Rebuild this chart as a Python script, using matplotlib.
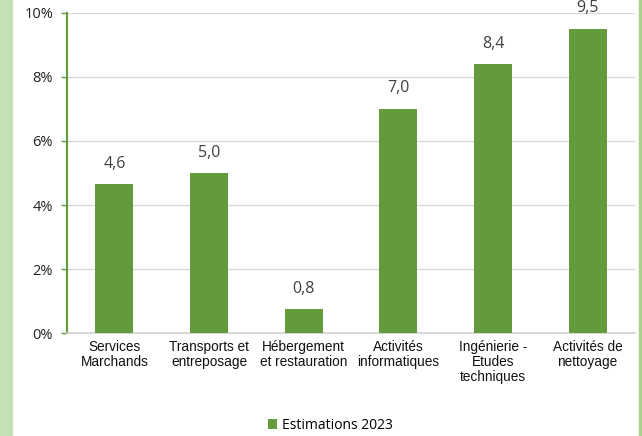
import matplotlib
matplotlib.use("Agg")
import matplotlib.pyplot as plt
from matplotlib.patches import Rectangle

categories = ["Services\nMarchands", "Transports et\nentreposage", "Hébergement\net restauration",
              "Activités\ninformatiques", "Ingénierie -\nEtudes\ntechniques", "Activités de\nnettoyage"]
values = [4.65, 5.0, 0.75, 7.0, 8.4, 9.5]
value_labels = ["4,6", "5,0", "0,8", "7,0", "8,4", "9,5"]
yticks = [0, 2, 4, 6, 8, 10]
series_name = "Estimations 2023"

bar_color = "#629a3c"
fig = plt.figure(figsize=(6.42, 4.36), dpi=100)
W, H = 642, 436
ax = fig.add_axes([67 / W, 1 - 333 / H, (635 - 67) / W, (333 - 13) / H])

x = list(range(len(categories)))
bars = ax.bar(x, values, width=0.4, color=bar_color, label=series_name, zorder=3)
ax.set_xlim(-0.5, len(categories) - 0.5)
ax.set_ylim(0, 10)
ax.set_yticks(yticks)
ax.set_yticklabels([f"{t}%" for t in yticks], family="Open Sans", fontsize=10.5, color="#222222")
ax.set_xticks(x)
ax.set_xticklabels(categories, family="Liberation Sans", fontsize=9.8, color="#111111", linespacing=1.1)
ax.tick_params(axis="x", length=0, pad=5)
ax.tick_params(axis="y", length=4, color="#629a3c", width=1, pad=6)
ax.grid(axis="y", color="#d9d9d9", linewidth=1, zorder=0)
for s in ["top", "right"]:
    ax.spines[s].set_visible(False)
ax.spines["left"].set_color("#629a3c")
ax.spines["left"].set_linewidth(1.5)
ax.spines["bottom"].set_color("#d0d0d0")
ax.spines["bottom"].set_linewidth(1.2)

for b, lab in zip(bars, value_labels):
    ax.annotate(lab, (b.get_x() + b.get_width() / 2, b.get_height()), xytext=(0, 9),
                textcoords="offset points", ha="center", va="bottom",
                family="Open Sans", fontsize=11.5, color="#404040", annotation_clip=False)

leg = fig.legend(handles=[bars], labels=[series_name], loc="center", bbox_to_anchor=(330 / W, 1 - 425 / H),
                 frameon=False, prop={"family": "Open Sans", "size": 10}, handlelength=0.7,
                 handleheight=0.7, handletextpad=0.3)

# decorative left strip and right border
fig.add_artist(Rectangle((0, 0), 12 / W, 1, transform=fig.transFigure, color="#c5e0b4", zorder=0))
fig.add_artist(Rectangle((639 / W, 0), 1.5 / W, 1, transform=fig.transFigure, color="#a9d18e", zorder=0))

fig.savefig("out.png", dpi=100)
